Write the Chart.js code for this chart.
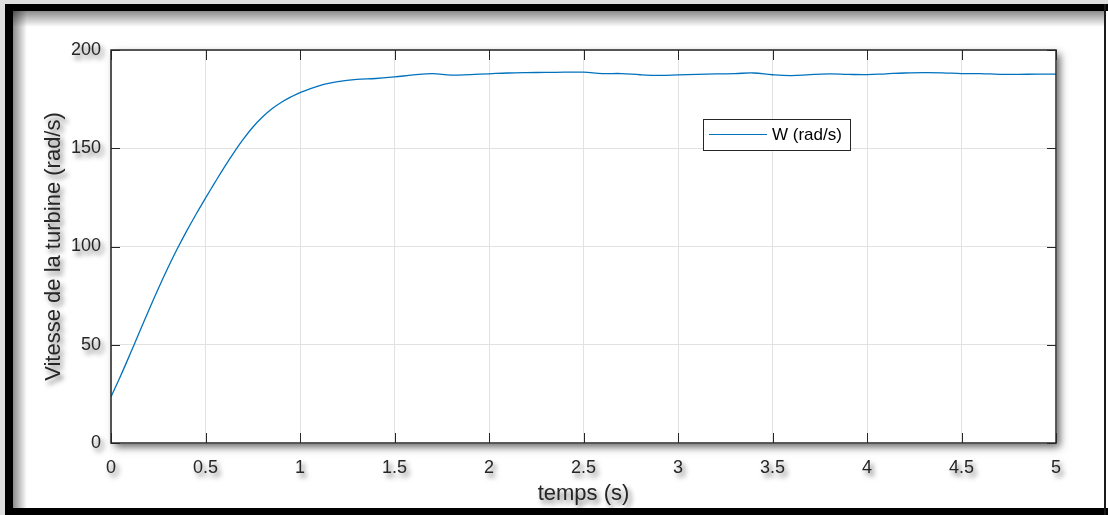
<!DOCTYPE html>
<html><head><meta charset="utf-8">
<script src="https://cdn.jsdelivr.net/npm/chart.js@4.4.0/dist/chart.umd.min.js"></script>
<style>html,body{margin:0;padding:0;background:#fff;overflow:hidden}#wrap{width:1108px;height:515px;position:relative}</style>
</head><body><div id="wrap"><canvas id="c" width="1108" height="515"></canvas></div>
<script>
const times = [0,0.05,0.1,0.15,0.2,0.25,0.3,0.35,0.4,0.45,0.5,0.55,0.6,0.65,0.7,0.75,0.8,0.85,0.9,0.95,1.0,
  1.1,1.2,1.3,1.4,1.5,1.6,1.7,1.8,1.9,2.0,2.1,2.2,2.3,2.4,2.5,2.6,2.7,2.8,2.9,3.0,
  3.1,3.2,3.3,3.4,3.5,3.6,3.7,3.8,3.9,4.0,4.1,4.2,4.3,4.4,4.5,4.6,4.7,4.8,4.9,5.0];
const speeds = [23.5,34.0,45.0,56.3,67.6,78.5,88.9,98.7,107.8,116.4,124.6,132.6,140.4,147.8,154.6,160.7,165.8,170.0,173.3,176.0,178.3,
  181.8,183.9,185.1,185.5,186.3,187.3,188.0,187.2,187.5,187.9,188.3,188.5,188.6,188.7,188.7,188.0,188.0,187.4,187.1,187.3,
  187.6,187.8,188.0,188.3,187.4,187.0,187.5,187.8,187.6,187.5,187.9,188.3,188.5,188.4,188.0,188.0,187.6,187.6,187.7,187.7];
const xTickValues = [0,0.5,1,1.5,2,2.5,3,3.5,4,4.5,5];
const yTickValues = [0,50,100,150,200];
const seriesLabel = 'W (rad/s)';
const xTitle = 'temps (s)';
const yTitle = 'Vitesse de la turbine (rad/s)';

const TXT = '#262626';
const FONT = "'Liberation Sans', Arial, sans-serif";

function withShadow(fn){
  return function(...args){
    const ctx = this.ctx;
    ctx.save();
    ctx.shadowColor = 'rgba(0,0,0,0.55)';
    ctx.shadowBlur = 5; ctx.shadowOffsetX = 3; ctx.shadowOffsetY = 4;
    fn.apply(this, args);
    ctx.restore();
  };
}

const framePlugin = {
  id: 'frame',
  beforeDraw(chart){
    const ctx = chart.ctx, W = chart.width, H = chart.height;
    Object.values(chart.scales).forEach(s => {
      if (!s._shadowPatched){
        const proto = Object.getPrototypeOf(s);
        s.drawLabels = withShadow(proto.drawLabels);
        s.drawTitle = withShadow(proto.drawTitle);
        s._shadowPatched = true;
      }
    });
    ctx.save();
    ctx.fillStyle = '#fff'; ctx.fillRect(0,0,W,H);
    ctx.fillStyle = '#dedede'; ctx.fillRect(0,0,W,4); ctx.fillRect(0,0,5,H);
    let g = ctx.createLinearGradient(13,0,27,0);
    g.addColorStop(0,'rgba(0,0,0,0.45)'); g.addColorStop(1,'rgba(0,0,0,0)');
    ctx.fillStyle = g; ctx.fillRect(13,11,14,H-18);
    g = ctx.createLinearGradient(0,11,0,27);
    g.addColorStop(0,'rgba(0,0,0,0.45)'); g.addColorStop(1,'rgba(0,0,0,0)');
    ctx.fillStyle = g; ctx.fillRect(13,11,1104-13,16);
    ctx.fillStyle = '#000';
    ctx.fillRect(5,4,W-5,7);
    ctx.fillRect(5,4,8,H-4);
    ctx.fillRect(5,508,W-5,7);
    ctx.fillStyle = '#1a1a1a'; ctx.fillRect(1104,4,2,H-4);
    const a = chart.chartArea;
    ctx.shadowColor = 'rgba(0,0,0,0.6)'; ctx.shadowBlur = 8; ctx.shadowOffsetX = 4; ctx.shadowOffsetY = 4;
    ctx.fillStyle = '#fff'; ctx.fillRect(a.left,a.top,a.right-a.left,a.bottom-a.top);
    ctx.restore();
  },
  afterDraw(chart){
    const ctx = chart.ctx, a = chart.chartArea;
    const xs = chart.scales.x, ys = chart.scales.y;
    ctx.save();
    ctx.strokeStyle = TXT; ctx.lineWidth = 1;
    ctx.beginPath();
    xs.ticks.forEach(t => {
      const px = Math.round(xs.getPixelForValue(t.value)) + 0.5;
      ctx.moveTo(px, a.bottom); ctx.lineTo(px, a.bottom - 10);
      ctx.moveTo(px, a.top); ctx.lineTo(px, a.top + 10);
    });
    ys.ticks.forEach(t => {
      const py = Math.round(ys.getPixelForValue(t.value)) + 0.5;
      ctx.moveTo(a.left, py); ctx.lineTo(a.left + 9, py);
      ctx.moveTo(a.right, py); ctx.lineTo(a.right - 9, py);
    });
    ctx.stroke();
    ctx.lineWidth = 1.5;
    ctx.strokeRect(a.left, a.top, a.right - a.left, a.bottom - a.top);
    // legend
    const ds = chart.data.datasets[0];
    const lx = 703.5, ly = 119.5, lw = 147, lh = 31;
    ctx.fillStyle = '#fff'; ctx.fillRect(lx, ly, lw, lh);
    ctx.lineWidth = 1; ctx.strokeStyle = TXT; ctx.strokeRect(lx, ly, lw, lh);
    ctx.strokeStyle = ds.borderColor; ctx.lineWidth = 1.2;
    ctx.beginPath(); ctx.moveTo(709, 134.5); ctx.lineTo(767, 134.5); ctx.stroke();
    ctx.fillStyle = '#000'; ctx.font = '17px ' + FONT; ctx.textBaseline = 'middle'; ctx.textAlign = 'left';
    ctx.fillText(ds.label, 772, 135);
    ctx.restore();
  }
};

new Chart(document.getElementById('c'), {
  type: 'line',
  data: {
    datasets: [{
      label: seriesLabel,
      data: times.map((t, i) => ({x: t, y: speeds[i]})),
      borderColor: '#0072BD',
      borderWidth: 1.3,
      pointRadius: 0,
      tension: 0.4,
      fill: false
    }]
  },
  options: {
    responsive: false,
    animation: false,
    devicePixelRatio: 1,
    layout: { padding: { left: 0, top: 50, right: 52, bottom: 0 } },
    plugins: { legend: { display: false }, tooltip: { enabled: false } },
    scales: {
      x: {
        type: 'linear', min: 0, max: 5,
        afterBuildTicks: s => { s.ticks = xTickValues.map(v => ({value: v})); },
        afterFit: s => { s.height = 72; },
        grid: { color: '#e2e2e2', lineWidth: 1, drawTicks: false },
        border: { display: false },
        ticks: { color: TXT, padding: 14, font: { size: 18, family: FONT }, callback: v => String(v) },
        title: { display: true, text: xTitle, color: TXT, font: { size: 22, family: FONT }, padding: { top: 0, bottom: 8 } }
      },
      y: {
        type: 'linear', min: 0, max: 200,
        afterBuildTicks: s => { s.ticks = yTickValues.map(v => ({value: v})); },
        afterFit: s => { s.width = 111; },
        grid: { color: '#e2e2e2', lineWidth: 1, drawTicks: false },
        border: { display: false },
        ticks: { color: TXT, padding: 10, font: { size: 18, family: FONT }, callback: v => String(v) },
        title: { display: true, text: yTitle, color: TXT, font: { size: 22, family: FONT }, padding: { top: 41, bottom: 0 } }
      }
    }
  },
  plugins: [framePlugin]
});
</script></body></html>
